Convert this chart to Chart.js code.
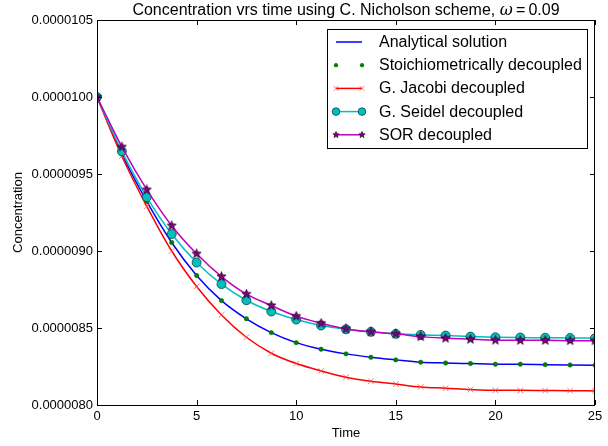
<!DOCTYPE html>
<html>
<head>
  <title>Concentration vrs time</title>
  <style>
    body { margin: 0; background: #ffffff; overflow: hidden; }
    #chart { display: block; }
  </style>
</head>
<body>
  <canvas id="chart" width="608" height="446"></canvas>
  <script src="https://cdn.jsdelivr.net/npm/chart.js"></script>
  <script>
    // values are read in units of 1e-7
    const SCALE = 1e-7;
    const times = [0, 1.25, 2.5, 3.75, 5, 6.25, 7.5, 8.75, 10, 11.25, 12.5, 13.75, 15, 16.25, 17.5, 18.75, 20, 21.25, 22.5, 23.75, 25];
    const analytical = [100, 96.3, 93.22, 90.55, 88.41, 86.78, 85.6, 84.7, 84.05, 83.62, 83.32, 83.1, 82.93, 82.78, 82.73, 82.69, 82.65, 82.64, 82.62, 82.6, 82.58];
    const stoich = [100, 96.3, 93.22, 90.55, 88.41, 86.78, 85.6, 84.7, 84.05, 83.62, 83.32, 83.1, 82.93, 82.78, 82.73, 82.69, 82.65, 82.65, 82.62, 82.6, 82.58];
    const jacobi = [100, 96.15, 92.9, 90.0, 87.7, 85.85, 84.4, 83.36, 82.69, 82.21, 81.8, 81.54, 81.36, 81.17, 81.09, 81.0, 80.95, 80.95, 80.94, 80.93, 80.91];
    const seidel = [100, 96.47, 93.5, 91.1, 89.25, 87.85, 86.8, 86.07, 85.55, 85.16, 84.92, 84.75, 84.62, 84.55, 84.51, 84.44, 84.4, 84.38, 84.37, 84.35, 84.34];
    const sor = [100, 96.76, 93.98, 91.64, 89.82, 88.34, 87.2, 86.46, 85.77, 85.31, 84.94, 84.75, 84.62, 84.44, 84.34, 84.27, 84.21, 84.2, 84.2, 84.18, 84.18];
    const xTicks = [0, 5, 10, 15, 20, 25];
    const yTicks = [80, 85, 90, 95, 100, 105];

    const FONT = "'Liberation Sans', Arial, sans-serif";

    function pts(vals) {
      return vals.map((v, i) => ({ x: times[i], y: v * SCALE }));
    }

    // filled star marker
    function makeStar(size, fill, edge) {
      const c = document.createElement("canvas");
      c.width = size; c.height = size;
      const g = c.getContext("2d");
      const cx = size / 2, cy = size / 2, ro = size / 2 - 0.7, ri = ro * 0.42;
      g.beginPath();
      for (let k = 0; k < 10; k++) {
        const r = k % 2 === 0 ? ro : ri;
        const a = -Math.PI / 2 + k * Math.PI / 5;
        const px = cx + r * Math.cos(a), py = cy + r * Math.sin(a);
        if (k === 0) g.moveTo(px, py); else g.lineTo(px, py);
      }
      g.closePath();
      g.fillStyle = fill;
      g.fill();
      g.lineWidth = 0.8;
      g.strokeStyle = edge;
      g.stroke();
      return c;
    }
    const starImg = makeStar(11, "#800080", "#2a002a");
    const smallStar = makeStar(8, "#800080", "#2a002a");

    const datasets = [
      {
        label: "Analytical solution",
        data: pts(analytical),
        borderColor: "#0000ff",
        borderWidth: 1.5,
        pointRadius: 0,
        cubicInterpolationMode: "monotone",
        order: 5
      },
      {
        label: "Stoichiometrically decoupled",
        data: pts(stoich),
        showLine: false,
        borderColor: "#006400",
        backgroundColor: "#008000",
        borderWidth: 0.5,
        pointRadius: 2.2,
        order: 4
      },
      {
        label: "G. Jacobi decoupled",
        data: pts(jacobi),
        borderColor: "#ff0000",
        borderWidth: 1.5,
        pointStyle: "crossRot",
        pointRadius: 4,
        pointBorderColor: "rgba(255,70,70,0.75)",
        pointBorderWidth: 1,
        cubicInterpolationMode: "monotone",
        order: 3
      },
      {
        label: "G. Seidel decoupled",
        data: pts(seidel),
        borderColor: "#00bfbf",
        borderWidth: 1.5,
        pointStyle: "circle",
        pointRadius: 4.5,
        pointBackgroundColor: "#00bfbf",
        pointBorderColor: "#104040",
        pointBorderWidth: 0.8,
        cubicInterpolationMode: "monotone",
        order: 2
      },
      {
        label: "SOR decoupled",
        data: pts(sor),
        borderColor: "#bf00bf",
        borderWidth: 1.5,
        pointStyle: starImg,
        pointRadius: 5,
        cubicInterpolationMode: "monotone",
        order: 1
      }
    ];

    // frame, inward ticks, title, axis titles and legend box
    const decorations = {
      id: "decorations",
      afterDatasetsDraw(chart) {
        const ctx = chart.ctx;
        const a = chart.chartArea;
        const xs = chart.scales.x, ys = chart.scales.y;
        ctx.save();
        ctx.strokeStyle = "#000000";
        ctx.lineWidth = 1;
        ctx.strokeRect(Math.round(a.left) + 0.5, Math.round(a.top) + 0.5, Math.round(a.right - a.left) - 1, Math.round(a.bottom - a.top));
        const tl = 5;
        ctx.beginPath();
        xTicks.forEach(t => {
          const px = Math.round(xs.getPixelForValue(t)) + 0.5;
          ctx.moveTo(px, a.bottom); ctx.lineTo(px, a.bottom - tl);
          ctx.moveTo(px, a.top); ctx.lineTo(px, a.top + tl);
        });
        yTicks.forEach(t => {
          const py = Math.round(ys.getPixelForValue(t * SCALE)) + 0.5;
          ctx.moveTo(a.left, py); ctx.lineTo(a.left + tl, py);
          ctx.moveTo(a.right, py); ctx.lineTo(a.right - tl, py);
        });
        ctx.stroke();

        // title
        ctx.fillStyle = "#000000";
        ctx.textBaseline = "middle";
        const p1 = "Concentration vrs time using C. Nicholson scheme, ";
        const p2 = "\u03c9";
        const p3 = "\u2009=\u20090.09";
        ctx.font = "16px " + FONT;
        const w1 = ctx.measureText(p1).width;
        const w3 = ctx.measureText(p3).width;
        ctx.font = "italic 16px 'DejaVu Serif', serif";
        const w2 = ctx.measureText(p2).width;
        const cx = (a.left + a.right) / 2;
        let tx = cx - (w1 + w2 + w3) / 2;
        const ty = 10.5;
        ctx.textAlign = "left";
        ctx.font = "16px " + FONT;
        ctx.fillText(p1, tx, ty);
        ctx.font = "italic 16px 'DejaVu Serif', serif";
        ctx.fillText(p2, tx + w1, ty);
        ctx.font = "16px " + FONT;
        ctx.fillText(p3, tx + w1 + w2, ty);

        // axis titles
        ctx.font = "13px " + FONT;
        ctx.textAlign = "center";
        ctx.fillText("Time", cx, 433);
        ctx.save();
        ctx.translate(18, (a.top + a.bottom) / 2);
        ctx.rotate(-Math.PI / 2);
        ctx.fillText("Concentration", 0, 0);
        ctx.restore();

        // legend
        const bx = 327.5, by = 29.5, bw = 260, bh = 119;
        ctx.fillStyle = "#ffffff";
        ctx.fillRect(bx, by, bw, bh);
        ctx.strokeStyle = "#000000";
        ctx.strokeRect(bx, by, bw, bh);
        ctx.font = "16px " + FONT;
        ctx.textAlign = "left";
        const x0 = 336, x1 = 362, rowH = 23.2;
        datasets.forEach((ds, i) => {
          const y = 42 + i * rowH;
          if (ds.showLine !== false) {
            ctx.strokeStyle = ds.borderColor;
            ctx.lineWidth = ds.borderWidth;
            ctx.beginPath();
            ctx.moveTo(x0, y); ctx.lineTo(x1, y);
            ctx.stroke();
          }
          if (ds.pointRadius > 0) {
            ctx.strokeStyle = ds.pointBorderColor || ds.borderColor;
            ctx.fillStyle = ds.pointBackgroundColor || ds.backgroundColor || ds.borderColor;
            ctx.lineWidth = ds.pointBorderWidth || ds.borderWidth;
            const style = ds.pointStyle === starImg ? smallStar : (ds.pointStyle || "circle");
            [x0, x1].forEach(px => {
              Chart.helpers.drawPoint(ctx, {
                pointStyle: style,
                radius: ds.pointRadius * 0.85,
                borderWidth: ctx.lineWidth,
                rotation: 0
              }, px, y);
            });
          }
          ctx.fillStyle = "#000000";
          ctx.fillText(ds.label, 379, y + 0.5);
        });
        ctx.restore();
      }
    };

    new Chart(document.getElementById("chart"), {
      type: "line",
      data: { datasets: datasets },
      plugins: [decorations],
      options: {
        responsive: false,
        animation: false,
        events: [],
        layout: { padding: { top: 20, right: 13, bottom: 0, left: 0 } },
        plugins: {
          legend: { display: false },
          title: { display: false },
          tooltip: { enabled: false }
        },
        elements: { line: { fill: false } },
        scales: {
          x: {
            type: "linear",
            min: 0,
            max: 25,
            afterFit: s => { s.height = 41; },
            afterBuildTicks: s => { s.ticks = xTicks.map(v => ({ value: v })); },
            grid: { display: false, drawTicks: false },
            border: { display: false },
            ticks: {
              padding: 4,
              color: "#000000",
              font: { family: FONT, size: 13 },
              maxRotation: 0,
              callback: v => String(v)
            }
          },
          y: {
            type: "linear",
            min: 80 * SCALE,
            max: 105 * SCALE,
            afterFit: s => { s.width = 97; },
            afterBuildTicks: s => { s.ticks = yTicks.map(v => ({ value: v * SCALE })); },
            grid: { display: false, drawTicks: false },
            border: { display: false },
            ticks: {
              padding: 4,
              color: "#000000",
              font: { family: FONT, size: 13 },
              callback: v => v.toFixed(7)
            }
          }
        }
      }
    });
  </script>
</body>
</html>
